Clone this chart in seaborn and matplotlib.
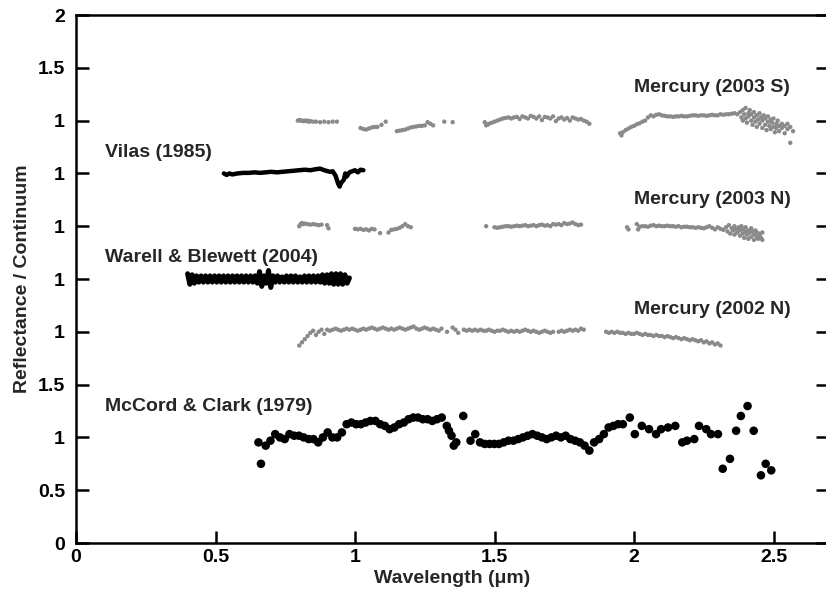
import numpy as np
import pandas as pd
import matplotlib
matplotlib.use("Agg")
import matplotlib.pyplot as plt
import seaborn as sns

# ---------------- data (relative reflectance, each spectrum ~1) ----------------
# McCord & Clark (1979) -- plotted without offset
mc_wl = [0.654, 0.663, 0.680, 0.697, 0.714, 0.731, 0.748, 0.765, 0.782, 0.799, 0.816, 0.834,
         0.851, 0.868, 0.885, 0.902, 0.919, 0.936, 0.953, 0.970, 0.987, 1.004, 1.021, 1.038,
         1.055, 1.073, 1.090, 1.107, 1.124, 1.141, 1.158, 1.175, 1.192, 1.209, 1.226, 1.243,
         1.260, 1.277, 1.294, 1.311, 1.329, 1.337, 1.346, 1.354, 1.363, 1.388, 1.414, 1.431,
         1.448, 1.465, 1.482, 1.499, 1.516, 1.533, 1.550, 1.568, 1.585, 1.602, 1.619, 1.636,
         1.653, 1.670, 1.687, 1.704, 1.721, 1.738, 1.755, 1.772, 1.789, 1.806, 1.823, 1.840,
         1.857, 1.875, 1.892, 1.909, 1.926, 1.943, 1.960, 1.985, 2.003, 2.028, 2.054, 2.079,
         2.097, 2.122, 2.148, 2.173, 2.190, 2.216, 2.233, 2.259, 2.276, 2.301, 2.318, 2.344,
         2.366, 2.383, 2.407, 2.429, 2.455, 2.472, 2.492]
mc_val = [0.953, 0.750, 0.922, 0.969, 1.031, 1.000, 0.984, 1.031, 1.016, 1.016, 1.000, 0.984,
          0.984, 0.953, 1.000, 1.047, 1.000, 1.000, 1.047, 1.125, 1.141, 1.125, 1.125, 1.141,
          1.156, 1.156, 1.125, 1.109, 1.078, 1.094, 1.125, 1.141, 1.172, 1.188, 1.188, 1.172,
          1.172, 1.156, 1.172, 1.188, 1.109, 1.063, 1.016, 0.922, 0.953, 1.203, 0.969, 1.031,
          0.953, 0.938, 0.938, 0.938, 0.938, 0.953, 0.969, 0.969, 0.984, 1.000, 1.016, 1.031,
          1.016, 1.000, 0.984, 1.000, 1.016, 1.000, 1.016, 0.984, 0.969, 0.953, 0.922, 0.875,
          0.953, 0.984, 1.031, 1.094, 1.109, 1.125, 1.125, 1.188, 1.031, 1.109, 1.078, 1.031,
          1.078, 1.094, 1.109, 0.953, 0.969, 0.984, 1.109, 1.078, 1.031, 1.031, 0.703, 0.797,
          1.063, 1.203, 1.297, 1.063, 0.641, 0.750, 0.688]

# Mercury (2002 N) -- two sampled segments
m02_seg1_range = (0.80, 1.82)
m02_seg1_val = [0.87, 0.90, 0.93, 0.96, 0.99, 1.01, 0.97, 1.00, 1.02, 0.98,
                1.02, 1.01, 1.02, 1.03, 1.02, 1.01, 1.02, 1.03, 1.02, 1.03,
                1.02, 1.01, 1.02, 1.03, 1.02, 1.03, 1.04, 1.03, 1.02, 1.03,
                1.04, 1.03, 1.02, 1.03, 1.02, 1.03, 1.04, 1.03, 1.02, 1.03,
                1.04, 1.05, 1.03, 1.02, 1.03, 1.04, 1.03, 1.02, 1.03, 1.02,
                1.01, 1.03, np.nan, 1.00, np.nan, 1.04, 1.02, 0.99, np.nan, 1.02,
                1.01, 1.02, 1.01, 1.02, 1.01, 1.02, 1.01, 1.01, 1.02, 1.01,
                1.00, 1.01, 1.01, 1.02, 1.01, 1.00, 1.01, 1.00, 1.01, 1.00,
                1.01, 1.02, 1.01, 1.00, 1.01, 1.00, 0.99, 1.00, 1.01, 1.00,
                0.99, 1.00, np.nan, 1.00, 1.01, 1.00, 1.01, 1.02, 1.01, 1.02,
                1.01, 1.03, 1.02]
m02_seg2_range = (1.90, 2.31)
m02_seg2_val = [1.00, 0.99, 1.00, 0.99, 1.00, 0.99, 0.99, 0.98, 0.99, 0.98,
                0.98, 0.99, 0.98, 0.97, 0.98, 0.97, 0.97, 0.96, 0.97, 0.96,
                0.96, 0.95, 0.96, 0.95, 0.94, 0.95, 0.94, 0.93, 0.94, 0.93,
                0.92, 0.93, 0.92, 0.91, 0.92, 0.90, 0.91, 0.89, 0.90, 0.88,
                0.89, 0.87]

# Mercury (2003 N)
m03n_wl = [0.80, 0.805, 0.81, 0.815, 0.82, 0.83, 0.84, 0.85, 0.86, 0.87, 0.88, 0.90, 0.905,
           1.00, 1.01, 1.02, 1.03, 1.04, 1.05, 1.06, 1.07, 1.09, 1.12, 1.13, 1.14, 1.15,
           1.16, 1.17, 1.18, 1.19, 1.20,
           1.47, 1.50, 1.51, 1.52, 1.53, 1.54, 1.55, 1.56, 1.57, 1.58, 1.59, 1.60, 1.61,
           1.62, 1.63, 1.64, 1.65, 1.66, 1.67, 1.68, 1.69, 1.70, 1.71, 1.72, 1.73, 1.74,
           1.75, 1.76, 1.77, 1.78, 1.79, 1.80, 1.81,
           1.975, 1.98, 2.01, 2.015, 2.02, 2.03, 2.04, 2.05, 2.06, 2.07, 2.08, 2.09, 2.10,
           2.11, 2.12, 2.13, 2.14, 2.15, 2.16, 2.17, 2.18, 2.19, 2.20, 2.21, 2.22, 2.23,
           2.24, 2.25, 2.26, 2.27, 2.28, 2.29, 2.30, 2.31, 2.32,
           2.33, 2.335, 2.34, 2.345, 2.35, 2.355, 2.36, 2.36, 2.365, 2.37, 2.375, 2.38,
           2.38, 2.385, 2.39, 2.39, 2.395, 2.40, 2.40, 2.405, 2.41, 2.41, 2.415, 2.42,
           2.42, 2.425, 2.43, 2.43, 2.435, 2.44, 2.44, 2.445, 2.45, 2.45, 2.455, 2.46, 2.46]
m03n_val = [1.00, 1.02, 1.03, 1.02, 1.025, 1.02, 1.015, 1.02, 1.015, 1.01, 1.015, 1.01, 0.98,
            0.975, 0.97, 0.975, 0.965, 0.97, 0.96, 0.975, 0.97, 0.935, 0.94, 0.965, 0.97, 0.975,
            0.985, 1.00, 1.02, 1.00, 0.99,
            1.00, 0.99, 0.985, 0.99, 0.995, 1.00, 1.00, 0.995, 1.00, 1.005, 1.00, 1.005, 1.01,
            1.00, 1.005, 1.01, 1.00, 1.01, 1.015, 1.005, 1.01, 1.00, 1.02, 1.015, 1.02, 1.01,
            1.03, 1.02, 1.025, 1.035, 1.02, 1.01, 1.015,
            0.99, 0.97, 1.02, 0.97, 0.995, 1.00, 1.00, 0.995, 1.005, 1.01, 1.00, 1.005, 1.00,
            1.00, 1.005, 1.00, 1.00, 0.995, 1.00, 0.99, 0.995, 0.995, 0.99, 0.99, 0.985, 0.99,
            0.985, 0.98, 0.99, 1.00, 0.985, 0.97, 0.99, 0.975, 0.965,
            0.99, 0.95, 1.01, 0.93, 0.98, 0.96, 1.00, 0.92, 0.97, 0.94, 0.99, 0.91,
            0.96, 1.00, 0.93, 0.97, 0.89, 0.95, 0.99, 0.92, 0.96, 0.88, 0.94, 0.98,
            0.90, 0.95, 0.92, 0.87, 0.96, 0.90, 0.94, 0.88, 0.93, 0.91, 0.89, 0.94, 0.87]

# Mercury (2003 S)
m03s_wl = [0.795, 0.80, 0.805, 0.81, 0.815, 0.82, 0.825, 0.83, 0.835, 0.84, 0.85, 0.86, 0.875,
           0.89, 0.905, 0.92, 0.935,
           1.02, 1.03, 1.04, 1.05, 1.06, 1.07, 1.08, 1.095, 1.11,
           1.15, 1.16, 1.17, 1.18, 1.19, 1.20, 1.21, 1.22, 1.23, 1.24, 1.25, 1.26, 1.27, 1.28,
           1.32, 1.35,
           1.465, 1.47, 1.475, 1.48, 1.49, 1.50, 1.51, 1.52, 1.53, 1.54, 1.55, 1.56, 1.57,
           1.58, 1.59, 1.60, 1.61, 1.62, 1.63, 1.64, 1.65, 1.66, 1.67, 1.68, 1.69, 1.70,
           1.71, 1.72, 1.73, 1.74, 1.75, 1.76, 1.77, 1.78, 1.79, 1.80, 1.81, 1.82, 1.83, 1.84,
           1.95, 1.955, 1.96, 1.97, 1.98, 1.99, 2.00, 2.01, 2.02, 2.03, 2.04,
           2.05, 2.06, 2.07, 2.08, 2.09, 2.10, 2.11, 2.12, 2.13, 2.14, 2.15, 2.16, 2.17,
           2.18, 2.19, 2.20, 2.21, 2.22, 2.23, 2.24, 2.25, 2.26, 2.27, 2.28, 2.29, 2.30,
           2.31, 2.32, 2.33, 2.34, 2.35, 2.36, 2.37,
           2.38, 2.385, 2.39, 2.39, 2.395, 2.40, 2.40, 2.405, 2.41, 2.41, 2.415, 2.42, 2.42,
           2.425, 2.43, 2.43, 2.435, 2.44, 2.44, 2.445, 2.45, 2.45, 2.455, 2.46, 2.46, 2.465,
           2.47, 2.47, 2.475, 2.48, 2.48, 2.485, 2.49, 2.49, 2.495, 2.50, 2.50, 2.505, 2.51,
           2.51, 2.515, 2.52, 2.52, 2.53, 2.53, 2.54, 2.54, 2.55, 2.55, 2.56, 2.57, 2.56]
m03s_val = [1.00, 1.005, 1.00, 1.00, 0.995, 1.00, 0.995, 1.00, 0.99, 0.995, 0.99, 0.99, 0.985,
            0.99, 0.985, 0.99, 0.99,
            0.93, 0.92, 0.915, 0.925, 0.935, 0.94, 0.94, 0.96, 0.99,
            0.90, 0.905, 0.91, 0.915, 0.925, 0.935, 0.94, 0.945, 0.95, 0.95, 0.955, 0.985, 0.97, 0.955,
            0.99, 0.985,
            0.985, 0.955, 0.96, 0.97, 0.98, 0.99, 1.00, 1.01, 1.02, 1.025, 1.03, 1.02, 1.03,
            1.035, 1.015, 1.04, 1.03, 1.02, 1.045, 1.035, 1.02, 1.04, 1.005, 1.035, 1.03, 1.02,
            1.04, 0.995, 1.02, 1.03, 1.01, 1.025, 1.00, 1.03, 1.02, 1.01, 1.015, 1.00, 0.99, 0.97,
            0.88, 0.86, 0.89, 0.91, 0.925, 0.94, 0.95, 0.965, 0.975, 0.99, 1.00,
            1.03, 1.05, 1.04, 1.055, 1.06, 1.05, 1.045, 1.04, 1.04, 1.035, 1.04, 1.04, 1.045,
            1.04, 1.04, 1.045, 1.05, 1.05, 1.045, 1.05, 1.05, 1.045, 1.05, 1.055, 1.05, 1.05,
            1.06, 1.055, 1.06, 1.06, 1.065, 1.07, 1.06,
            1.08, 1.03, 1.10, 1.00, 1.06, 1.12, 1.02, 0.98, 1.07, 1.04, 1.10, 1.00, 1.06,
            0.96, 1.03, 1.08, 0.99, 1.05, 0.94, 1.01, 1.07, 0.97, 1.03, 0.93, 1.00, 1.05,
            0.96, 1.02, 0.91, 0.99, 1.04, 0.95, 1.01, 0.92, 0.98, 0.94, 1.02, 0.89, 0.97,
            0.93, 1.00, 0.95, 0.90, 0.97, 0.93, 0.95, 0.88, 0.92, 0.97, 0.94, 0.90, 0.79]

# Vilas (1985)
vilas_wl = [0.53, 0.54, 0.55, 0.56, 0.57, 0.58, 0.60, 0.62, 0.64, 0.66, 0.68, 0.70, 0.72,
            0.74, 0.76, 0.78, 0.80, 0.82, 0.84, 0.86, 0.875, 0.89, 0.91, 0.92, 0.93, 0.94,
            0.945, 0.95, 0.96, 0.965, 0.97, 0.98, 0.99, 1.00, 1.01, 1.02, 1.03]
vilas_val = [1.00, 0.985, 1.00, 0.99, 0.995, 1.00, 1.005, 1.005, 1.01, 1.005, 1.01, 1.015, 1.01,
             1.015, 1.02, 1.025, 1.03, 1.035, 1.03, 1.04, 1.045, 1.03, 1.015, 1.02, 0.98, 0.90,
             0.875, 0.91, 0.94, 1.00, 0.97, 1.01, 1.02, 1.03, 1.01, 1.035, 1.03]

# Warell & Blewett (2004) -- regularly sampled, noisy
warell_range = (0.40, 0.98)
warell_val = [1.05, 0.95, 1.04, 0.96, 1.03, 0.97, 1.03, 0.97, 1.03, 0.97, 1.03, 0.97, 1.03,
              0.97, 1.03, 0.97, 1.03, 0.97, 1.03, 0.97, 1.03, 0.97, 1.03, 0.97, 1.03, 0.97,
              1.03, 0.97, 1.03, 0.97, 1.03, 0.96, 1.07, 0.93, 1.03, 0.96, 1.08, 0.92, 1.03,
              0.97, 1.03, 0.97, 1.02, 0.97, 1.03, 0.97, 1.03, 0.97, 1.03, 0.97, 1.02, 0.97,
              1.03, 0.97, 1.03, 0.97, 1.03, 0.97, 1.03, 0.97, 1.04, 0.96, 1.04, 0.96, 1.05,
              0.95, 1.05, 0.95, 1.05, 0.95, 1.04, 0.96, 1.01]

# vertical offsets of the stacked spectra and their labels
offsets = {"McCord": 0.0, "M02N": 1.0, "Warell": 1.5, "M03N": 2.0, "Vilas": 2.5, "M03S": 3.0}
labels = [("Mercury (2003 S)", 2.00, 4.31), ("Vilas (1985)", 0.105, 3.70),
          ("Mercury (2003 N)", 2.00, 3.25), ("Warell & Blewett (2004)", 0.105, 2.70),
          ("Mercury (2002 N)", 2.00, 2.21), ("McCord & Clark (1979)", 0.105, 1.29)]
ytick_pos = [0, 0.5, 1, 1.5, 2, 2.5, 3, 3.5, 4, 4.5, 5]
ytick_lab = ["0", "0.5", "1", "1.5", "1", "1", "1", "1", "1", "1.5", "2"]
xtick_pos = [0, 0.5, 1, 1.5, 2, 2.5]
xtick_lab = ["0", "0.5", "1", "1.5", "2", "2.5"]

# ---------------- build tables ----------------
m02_wl = list(np.linspace(*m02_seg1_range, len(m02_seg1_val))) + \
         list(np.linspace(*m02_seg2_range, len(m02_seg2_val)))
m02_val = m02_seg1_val + m02_seg2_val
gray = pd.concat([
    pd.DataFrame({"wl": m02_wl, "y": np.array(m02_val) + offsets["M02N"]}),
    pd.DataFrame({"wl": m03n_wl, "y": np.array(m03n_val) + offsets["M03N"]}),
    pd.DataFrame({"wl": m03s_wl, "y": np.array(m03s_val) + offsets["M03S"]}),
]).dropna()
mc = pd.DataFrame({"wl": mc_wl, "y": np.array(mc_val) + offsets["McCord"]})
vil = pd.DataFrame({"wl": vilas_wl, "y": np.array(vilas_val) + offsets["Vilas"]})
war = pd.DataFrame({"wl": np.linspace(*warell_range, len(warell_val)),
                    "y": np.array(warell_val) + offsets["Warell"]})

# ---------------- plot ----------------
sns.set_theme(style="white")
plt.rcParams["font.family"] = ["Liberation Sans", "DejaVu Sans"]
plt.rcParams["font.weight"] = "bold"

FS = 14
fig = plt.figure(figsize=(8.26, 5.97), dpi=100)
ax = fig.add_axes([76 / 826, 54 / 597, 752 / 826, 528 / 597])

sns.scatterplot(data=gray, x="wl", y="y", ax=ax, s=10, color="#8a8a8a", edgecolor="none",
                linewidth=0)
sns.scatterplot(data=mc, x="wl", y="y", ax=ax, s=38, color="black", edgecolor="none",
                linewidth=0)
sns.lineplot(data=vil, x="wl", y="y", ax=ax, color="black", lw=3.2, sort=False, estimator=None)
sns.lineplot(data=war, x="wl", y="y", ax=ax, color="black", lw=3.6, sort=False, estimator=None)

for txt, x, y in labels:
    ax.text(x, y, txt, fontsize=FS, fontweight="bold", ha="left", va="center")

ax.set_xlim(0, 752 / 279)
ax.set_ylim(0, 5)
ax.set_xticks(xtick_pos)
ax.set_xticklabels(xtick_lab)
ax.set_yticks(ytick_pos)
ax.set_yticklabels(ytick_lab)
ax.tick_params(axis="both", direction="in", length=9, width=1.8, labelsize=FS, pad=6,
               colors="black")
ax.tick_params(axis="y", right=True, left=True, pad=8)
ax.tick_params(axis="x", bottom=True, top=False, pad=4)
for lab in ax.get_xticklabels() + ax.get_yticklabels():
    lab.set_fontweight("bold")
for sp in ax.spines.values():
    sp.set_linewidth(1.8)
    sp.set_color("black")

ax.set_xlabel("Wavelength (\u03bcm)", fontsize=FS, fontweight="bold", labelpad=3)
ax.set_ylabel("Reflectance / Continuum", fontsize=FS, fontweight="bold", labelpad=5)

fig.savefig("out.png", dpi=100)
